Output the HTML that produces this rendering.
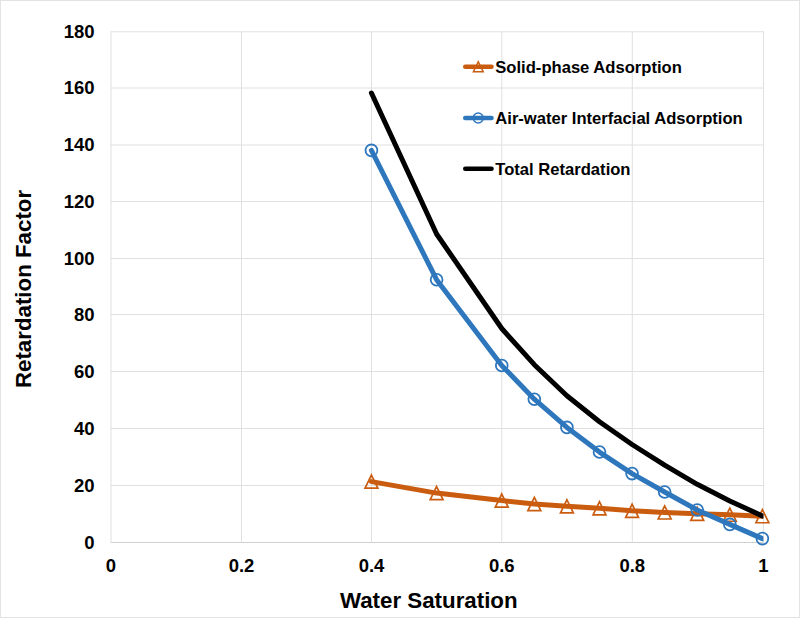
<!DOCTYPE html><html><head><meta charset="utf-8"><style>html,body{margin:0;padding:0;background:#fff;}svg{display:block;}text{font-family:"Liberation Sans",sans-serif;font-weight:bold;fill:#000;}</style></head><body>
<svg width="800" height="618" viewBox="0 0 800 618">
<defs><clipPath id="pa"><rect x="0" y="0" width="763.4" height="618"/></clipPath></defs>
<rect x="0" y="0" width="800" height="618" fill="#fff"/>
<rect x="0.5" y="0.5" width="799" height="617" fill="none" stroke="#e3e3e3" stroke-width="1"/>
<line x1="110.5" y1="542.5" x2="764.0" y2="542.5" stroke="#d0d0d0" stroke-width="1"/>
<line x1="110.5" y1="485.5" x2="764.0" y2="485.5" stroke="#e0e0e0" stroke-width="1"/>
<line x1="110.5" y1="428.5" x2="764.0" y2="428.5" stroke="#e0e0e0" stroke-width="1"/>
<line x1="110.5" y1="371.5" x2="764.0" y2="371.5" stroke="#e0e0e0" stroke-width="1"/>
<line x1="110.5" y1="314.5" x2="764.0" y2="314.5" stroke="#e0e0e0" stroke-width="1"/>
<line x1="110.5" y1="258.5" x2="764.0" y2="258.5" stroke="#e0e0e0" stroke-width="1"/>
<line x1="110.5" y1="201.5" x2="764.0" y2="201.5" stroke="#e0e0e0" stroke-width="1"/>
<line x1="110.5" y1="145.0" x2="764.0" y2="145.0" stroke="#e0e0e0" stroke-width="1"/>
<line x1="110.5" y1="88.0" x2="764.0" y2="88.0" stroke="#e0e0e0" stroke-width="1"/>
<line x1="110.5" y1="31.75" x2="764.0" y2="31.75" stroke="#e0e0e0" stroke-width="1"/>
<line x1="111.0" y1="31.75" x2="111.0" y2="542.5" stroke="#e0e0e0" stroke-width="1"/>
<line x1="241.5" y1="31.75" x2="241.5" y2="542.5" stroke="#e0e0e0" stroke-width="1"/>
<line x1="371.5" y1="31.75" x2="371.5" y2="542.5" stroke="#e0e0e0" stroke-width="1"/>
<line x1="501.8" y1="31.75" x2="501.8" y2="542.5" stroke="#e0e0e0" stroke-width="1"/>
<line x1="632.3" y1="31.75" x2="632.3" y2="542.5" stroke="#e0e0e0" stroke-width="1"/>
<line x1="763.5" y1="31.75" x2="763.5" y2="542.5" stroke="#e0e0e0" stroke-width="1"/>
<text x="94.5" y="548.90" font-size="18.5" text-anchor="end">0</text>
<text x="94.5" y="491.90" font-size="18.5" text-anchor="end">20</text>
<text x="94.5" y="434.90" font-size="18.5" text-anchor="end">40</text>
<text x="94.5" y="377.90" font-size="18.5" text-anchor="end">60</text>
<text x="94.5" y="320.90" font-size="18.5" text-anchor="end">80</text>
<text x="94.5" y="264.90" font-size="18.5" text-anchor="end">100</text>
<text x="94.5" y="207.90" font-size="18.5" text-anchor="end">120</text>
<text x="94.5" y="151.40" font-size="18.5" text-anchor="end">140</text>
<text x="94.5" y="94.40" font-size="18.5" text-anchor="end">160</text>
<text x="94.5" y="38.15" font-size="18.5" text-anchor="end">180</text>
<text x="111.00" y="571.5" font-size="18.5" text-anchor="middle">0</text>
<text x="241.50" y="571.5" font-size="18.5" text-anchor="middle">0.2</text>
<text x="371.50" y="571.5" font-size="18.5" text-anchor="middle">0.4</text>
<text x="501.80" y="571.5" font-size="18.5" text-anchor="middle">0.6</text>
<text x="632.30" y="571.5" font-size="18.5" text-anchor="middle">0.8</text>
<text x="763.50" y="571.5" font-size="18.5" text-anchor="middle">1</text>
<text x="428.8" y="608.3" font-size="22.3" text-anchor="middle">Water Saturation</text>
<text transform="translate(30.7,289) rotate(-90)" x="0" y="0" font-size="22.3" text-anchor="middle">Retardation Factor</text>
<polyline clip-path="url(#pa)" points="371.44,481.60 436.60,493.10 501.76,500.60 534.34,504.00 566.92,506.30 599.50,508.30 632.08,510.75 664.66,512.45 697.24,513.80 729.82,514.70 762.40,516.20" fill="none" stroke="#CA5C10" stroke-width="5.0" stroke-linejoin="round" stroke-linecap="round"/>
<polygon points="371.44,475.05 377.86,488.15 365.02,488.15" fill="none" stroke="#CA5C10" stroke-width="1.7" stroke-linejoin="miter"/>
<polygon points="436.60,486.55 443.02,499.65 430.18,499.65" fill="none" stroke="#CA5C10" stroke-width="1.7" stroke-linejoin="miter"/>
<polygon points="501.76,494.05 508.18,507.15 495.34,507.15" fill="none" stroke="#CA5C10" stroke-width="1.7" stroke-linejoin="miter"/>
<polygon points="534.34,497.45 540.76,510.55 527.92,510.55" fill="none" stroke="#CA5C10" stroke-width="1.7" stroke-linejoin="miter"/>
<polygon points="566.92,499.75 573.34,512.85 560.50,512.85" fill="none" stroke="#CA5C10" stroke-width="1.7" stroke-linejoin="miter"/>
<polygon points="599.50,501.75 605.92,514.85 593.08,514.85" fill="none" stroke="#CA5C10" stroke-width="1.7" stroke-linejoin="miter"/>
<polygon points="632.08,504.20 638.50,517.30 625.66,517.30" fill="none" stroke="#CA5C10" stroke-width="1.7" stroke-linejoin="miter"/>
<polygon points="664.66,505.90 671.08,519.00 658.24,519.00" fill="none" stroke="#CA5C10" stroke-width="1.7" stroke-linejoin="miter"/>
<polygon points="697.24,507.25 703.66,520.35 690.82,520.35" fill="none" stroke="#CA5C10" stroke-width="1.7" stroke-linejoin="miter"/>
<polygon points="729.82,508.15 736.24,521.25 723.40,521.25" fill="none" stroke="#CA5C10" stroke-width="1.7" stroke-linejoin="miter"/>
<polygon points="762.40,509.65 768.82,522.75 755.98,522.75" fill="none" stroke="#CA5C10" stroke-width="1.7" stroke-linejoin="miter"/>
<polyline clip-path="url(#pa)" points="371.44,150.40 436.60,279.70 501.76,365.50 534.34,399.20 566.92,427.40 599.50,452.05 632.08,473.60 664.66,492.00 697.24,510.00 729.82,524.40 762.40,538.60" fill="none" stroke="#2E77BD" stroke-width="5.0" stroke-linejoin="round" stroke-linecap="round"/>
<circle cx="371.44" cy="150.40" r="5.9" fill="none" stroke="#2E77BD" stroke-width="1.8"/>
<circle cx="436.60" cy="279.70" r="5.9" fill="none" stroke="#2E77BD" stroke-width="1.8"/>
<circle cx="501.76" cy="365.50" r="5.9" fill="none" stroke="#2E77BD" stroke-width="1.8"/>
<circle cx="534.34" cy="399.20" r="5.9" fill="none" stroke="#2E77BD" stroke-width="1.8"/>
<circle cx="566.92" cy="427.40" r="5.9" fill="none" stroke="#2E77BD" stroke-width="1.8"/>
<circle cx="599.50" cy="452.05" r="5.9" fill="none" stroke="#2E77BD" stroke-width="1.8"/>
<circle cx="632.08" cy="473.60" r="5.9" fill="none" stroke="#2E77BD" stroke-width="1.8"/>
<circle cx="664.66" cy="492.00" r="5.9" fill="none" stroke="#2E77BD" stroke-width="1.8"/>
<circle cx="697.24" cy="510.00" r="5.9" fill="none" stroke="#2E77BD" stroke-width="1.8"/>
<circle cx="729.82" cy="524.40" r="5.9" fill="none" stroke="#2E77BD" stroke-width="1.8"/>
<circle cx="762.40" cy="538.60" r="5.9" fill="none" stroke="#2E77BD" stroke-width="1.8"/>
<polyline clip-path="url(#pa)" points="371.44,93.00 436.60,234.00 501.76,328.50 534.34,364.70 566.92,395.80 599.50,421.70 632.08,444.50 664.66,465.20 697.24,484.30 729.82,500.90 762.40,515.90" fill="none" stroke="#000" stroke-width="5.0" stroke-linejoin="round" stroke-linecap="round"/>
<line x1="465.3" y1="66.75" x2="491.5" y2="66.75" stroke="#CA5C10" stroke-width="4.6" stroke-linecap="round"/>
<polygon points="478.30,61.75 483.20,71.75 473.40,71.75" fill="none" stroke="#CA5C10" stroke-width="1.5" stroke-linejoin="miter"/>
<text x="495.3" y="72.65" font-size="16.6">Solid-phase Adsorption</text>
<line x1="465.3" y1="118.0" x2="491.5" y2="118.0" stroke="#2E77BD" stroke-width="4.6" stroke-linecap="round"/>
<circle cx="478.2" cy="118.0" r="5" fill="none" stroke="#2E77BD" stroke-width="1.5"/>
<text x="495.3" y="123.90" font-size="16.6">Air-water Interfacial Adsorption</text>
<line x1="465.3" y1="168.75" x2="491.5" y2="168.75" stroke="#000" stroke-width="4.6" stroke-linecap="round"/>
<text x="495.3" y="174.65" font-size="16.6">Total Retardation</text>
</svg></body></html>
